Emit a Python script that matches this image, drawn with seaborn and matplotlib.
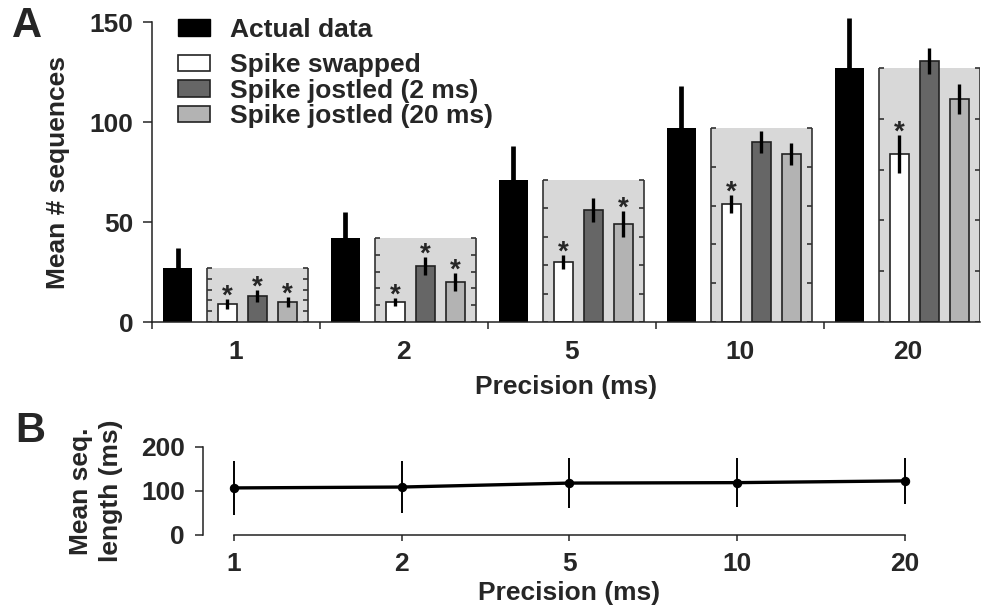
import numpy as np
import matplotlib
matplotlib.use('Agg')
import matplotlib.pyplot as plt
from matplotlib.patches import Patch
import seaborn as sns

# data
precision = ['1', '2', '5', '10', '20']
actual = [27, 42, 71, 97, 127]
actual_err = [10, 13, 17, 21, 25]
swapped = [9, 10, 30, 59, 84]
swapped_err = [2.5, 2, 3.5, 4.5, 9.5]
jostled2 = [13, 28, 56, 90, 130.5]
jostled2_err = [3, 4.5, 6, 5.5, 6.5]
jostled20 = [10, 20, 49, 84, 111.5]
jostled20_err = [2.5, 4.5, 6.5, 5.5, 7.5]
swapped_sig = [1, 1, 1, 1, 1]
jostled2_sig = [1, 1, 0, 0, 0]
jostled20_sig = [1, 1, 1, 0, 0]

seq_len = [107, 109, 118, 119, 123]
seq_len_err = [62, 59, 57, 55, 52]

sns.set_theme(style='ticks')
plt.rcParams['font.family'] = ['Liberation Sans', 'DejaVu Sans']
plt.rcParams['font.weight'] = 'bold'
plt.rcParams['axes.labelweight'] = 'bold'
plt.rcParams['axes.linewidth'] = 1.1
plt.rcParams['axes.edgecolor'] = '#222222'

fig = plt.figure(figsize=(9.82, 6.12), dpi=100)
W, H = 982, 612
axA = fig.add_axes([152 / W, (H - 322) / H, 828 / W, 300 / H])
axB = fig.add_axes([203 / W, (H - 535) / H, 777 / W, 88 / H])

idx = np.arange(len(precision))

# layout inside one group (1 unit = one precision value)
off_black, w_black = -0.348, 0.173
box_l, box_r = -0.173, 0.429
offs = [-0.051, 0.128, 0.307]
w_small = 0.113
tick_len = 0.03

# shaded reference box = 100 % of actual data
axA.bar(idx + (box_l + box_r) / 2, actual, width=box_r - box_l,
        color='#d8d8d8', linewidth=0, zorder=0.5)
axA.vlines(idx + box_l, 0, actual, color='#333333', lw=1.2, zorder=1)
axA.vlines(idx + box_r, 0, actual, color='#333333', lw=1.2, zorder=1)
for i, a in enumerate(actual):
    ys = np.array(a) * np.arange(6) / 5
    axA.hlines(ys, i + box_l, i + box_l + tick_len, color='#333333', lw=1.2, zorder=1)
    axA.hlines(ys, i + box_r - tick_len, i + box_r, color='#333333', lw=1.2, zorder=1)

sns.barplot(x=idx + off_black, y=actual, native_scale=True, width=w_black,
            color='black', edgecolor='black', linewidth=0, saturation=1,
            ax=axA, zorder=2)
axA.vlines(idx + off_black, actual, np.array(actual) + np.array(actual_err),
           color='black', lw=3.4, zorder=3, clip_on=False)

series = [(swapped, swapped_err, swapped_sig, 'white'),
          (jostled2, jostled2_err, jostled2_sig, '#666666'),
          (jostled20, jostled20_err, jostled20_sig, '#b3b3b3')]
for k, (vals, errs, sig, col) in enumerate(series):
    xs = idx + offs[k]
    sns.barplot(x=xs, y=vals, native_scale=True, width=w_small, color=col,
                edgecolor='#222222', linewidth=1.2, saturation=1, ax=axA, zorder=2)
    v = np.array(vals)
    e = np.array(errs)
    axA.vlines(xs, v - e, v + e, color='black', lw=2.4, zorder=3, clip_on=False)
    for x, top, s in zip(xs, v + e, sig):
        if s:
            axA.annotate('*', (x, top), xytext=(0, -3.5), textcoords='offset points',
                         ha='center', va='baseline', fontsize=20, fontweight='bold')

axA.set_xlim(-0.5, 4.43)
axA.set_ylim(0, 150)
axA.set_yticks([0, 50, 100, 150])
axA.set_xticks(idx)
axA.set_xticklabels(precision)
axA.set_xticks(np.arange(-0.5, 4, 1), minor=True)
axA.tick_params(axis='x', which='major', length=0, pad=13, labelsize=19)
axA.tick_params(axis='x', which='minor', length=5, width=1.1, direction='out')
axA.tick_params(axis='y', length=6.5, width=1.1, pad=7, labelsize=19)
sns.despine(ax=axA)
axA.set_xlabel('Precision (ms)', fontsize=19, labelpad=8)
axA.set_ylabel('Mean # sequences', fontsize=19)
axA.yaxis.set_label_coords(-0.099, 0.5)

leg_kw = dict(loc='upper left', frameon=False, handlelength=1.24,
              handleheight=0.6, handletextpad=0.75, borderpad=0, borderaxespad=0,
              labelspacing=0.06, prop={'weight': 'bold', 'size': 19})
leg1 = axA.legend(handles=[Patch(facecolor='black', edgecolor='black')],
                  labels=['Actual data'], bbox_to_anchor=(0.031, 1.015), **leg_kw)
axA.add_artist(leg1)
axA.legend(handles=[Patch(facecolor='white', edgecolor='#222222', lw=1.2),
                    Patch(facecolor='#666666', edgecolor='#222222', lw=1.2),
                    Patch(facecolor='#b3b3b3', edgecolor='#222222', lw=1.2)],
           labels=['Spike swapped', 'Spike jostled (2 ms)', 'Spike jostled (20 ms)'],
           bbox_to_anchor=(0.031, 0.896), **leg_kw)

# panel B
sns.lineplot(x=idx, y=seq_len, color='black', lw=2.4, marker='o', markersize=6,
             markeredgecolor='black', ax=axB)
axB.errorbar(idx, seq_len, yerr=seq_len_err, fmt='none', ecolor='black', elinewidth=1.4)
axB.set_xlim(-0.185, 4.45)
axB.set_ylim(0, 200)
axB.set_yticks([0, 100, 200])
axB.set_xticks(idx)
axB.set_xticklabels(precision)
axB.tick_params(axis='x', length=4, width=1.1, pad=8, labelsize=19)
axB.tick_params(axis='y', length=6, width=1.1, pad=7, labelsize=19)
sns.despine(ax=axB)
axB.spines['bottom'].set_bounds(0, 4)
axB.set_xlabel('Precision (ms)', fontsize=19)
axB.xaxis.set_label_coords((569 - 203) / 777, -0.52)
axB.set_ylabel('Mean seq.\nlength (ms)', fontsize=19, linespacing=1.3)
axB.yaxis.set_label_coords(-0.103, 0.5)

fig.text(12 / W, 1 - 37 / H, 'A', fontsize=30, fontweight='bold', va='baseline')
fig.text(15 / W, 1 - 442 / H, 'B', fontsize=30, fontweight='bold', va='baseline')

fig.savefig('out.png', dpi=100)
